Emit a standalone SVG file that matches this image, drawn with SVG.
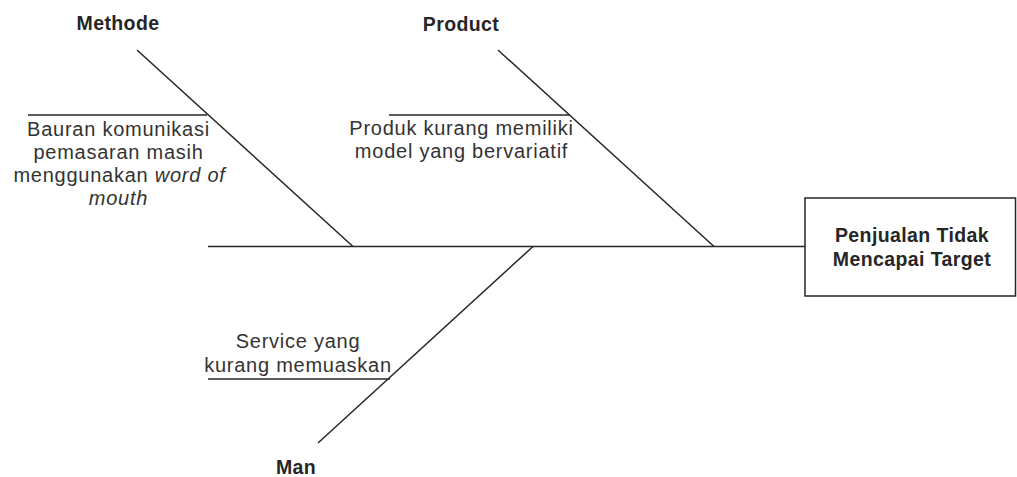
<svg xmlns="http://www.w3.org/2000/svg" width="1017" height="477" viewBox="0 0 1017 477">
<style>
.ln{stroke:#262626;stroke-width:1.5;fill:none}
.t{font-family:"Liberation Sans",Arial,sans-serif;font-size:20px;fill:#333;text-anchor:middle;letter-spacing:0.75px}
.b{font-family:"Liberation Sans",Arial,sans-serif;font-size:19.5px;font-weight:bold;fill:#262626;text-anchor:middle;letter-spacing:0.4px}
.i{font-style:italic}
</style>
<rect width="1017" height="477" fill="#fff"/>
<g id="connectors">
<line class="ln" x1="208" y1="246.5" x2="805" y2="246.5"/>
<line class="ln" x1="137" y1="50" x2="353" y2="246.5"/>
<line class="ln" x1="498" y1="50" x2="714" y2="246.5"/>
<line class="ln" x1="533" y1="246.5" x2="318" y2="443"/>
<line class="ln" x1="28" y1="115" x2="207" y2="115"/>
<line class="ln" x1="389" y1="115" x2="570" y2="115"/>
<line class="ln" x1="208" y1="379" x2="390" y2="379"/>
</g>
<g id="effect">
<rect x="805" y="198" width="210.5" height="98" fill="#fff" stroke="#262626" stroke-width="1.5"/>
<text class="b" x="912" y="242">Penjualan Tidak</text>
<text class="b" x="912" y="266">Mencapai Target</text>
</g>
<g id="methode">
<text class="b" x="118" y="30">Methode</text>
</g>
<g id="product">
<text class="b" x="461" y="31">Product</text>
</g>
<g id="man">
<text class="b" x="296" y="474">Man</text>
</g>
<g id="cause-methode">
<text class="t" x="118.5" y="136">Bauran komunikasi</text>
<text class="t" x="118.5" y="159">pemasaran masih</text>
<text class="t" x="119.5" y="182">menggunakan <tspan class="i">word of</tspan></text>
<text class="t i" x="118.5" y="205">mouth</text>
</g>
<g id="cause-product">
<text class="t" x="461.5" y="135">Produk kurang memiliki</text>
<text class="t" x="461.5" y="158">model yang bervariatif</text>
</g>
<g id="cause-man">
<text class="t" x="298" y="348">Service yang</text>
<text class="t" x="298" y="372">kurang memuaskan</text>
</g>
</svg>
